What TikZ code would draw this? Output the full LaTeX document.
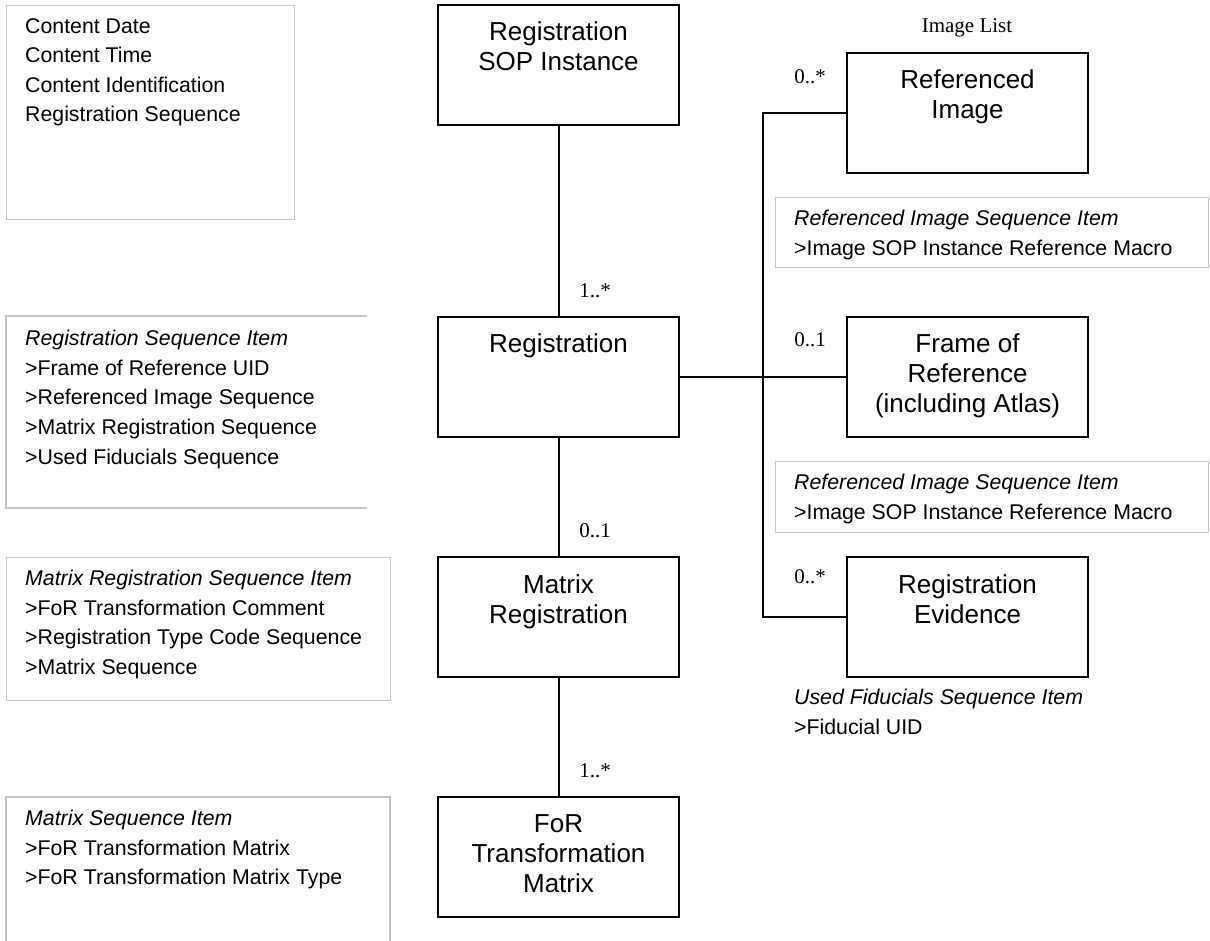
\documentclass[tikz,border=0pt]{standalone}
\usepackage{fontspec}
\setmainfont{Liberation Serif}
\setsansfont{Liberation Sans}
\definecolor{annogray}{HTML}{C4C4C4}
\begin{document}
\begin{tikzpicture}[x=1pt,y=-1pt,
  mainbox/.style={draw, line width=2pt, minimum width=241pt, minimum height=120pt, inner sep=0pt},
  boxtext/.style={anchor=north, align=center, inner sep=0pt, font=\sffamily\fontsize{26}{30}\selectfont},
  annbox/.style={draw=annogray, line width=1.3pt, inner sep=0pt, anchor=north west},
  annline/.style={draw=annogray, line width=1.3pt},
  anntext/.style={anchor=north west, align=left, inner sep=0pt, font=\sffamily\fontsize{21.3}{29.6}\selectfont},
  mult/.style={inner sep=0pt, font=\rmfamily\fontsize{21}{25}\selectfont},
  conn/.style={line width=2pt}]
\useasboundingbox (0,0) rectangle (1210,940);

% main boxes
\node[mainbox] (sop)   at (558.5,64.5) {};
\node[mainbox] (reg)   at (558.5,376.5) {};
\node[mainbox] (mreg)  at (558.5,617) {};
\node[mainbox] (fortm) at (558.5,857) {};
\node[mainbox] (refimg) at (967.5,112.5) {};
\node[mainbox] (frame)  at (967.5,376.5) {};
\node[mainbox] (evid)   at (967.5,617) {};

\node[boxtext] (tsop)   at ([yshift=-18]sop.north) {Registration\\SOP Instance};
\node[boxtext] (treg)   at ([yshift=-18]reg.north) {Registration};
\node[boxtext] (tmreg)  at ([yshift=-18]mreg.north) {Matrix\\Registration};
\node[boxtext] (tfortm) at ([yshift=-18]fortm.north) {FoR\\Transformation\\Matrix};
\node[boxtext] (trefimg) at ([yshift=-18]refimg.north) {Referenced\\Image};
\node[boxtext] (tframe)  at ([yshift=-18]frame.north) {Frame of\\Reference\\(including Atlas)};
\node[boxtext] (tevid)   at ([yshift=-18]evid.north) {Registration\\Evidence};

% connectors
\coordinate (bus) at (763,113);
\draw[conn] (sop.south) -- (reg.north);
\draw[conn] (reg.south) -- (mreg.north);
\draw[conn] (mreg.south) -- (fortm.north);
\draw[conn] (reg.east) -- (frame.west);
\draw[conn] (refimg.west) -- (refimg.west -| bus) -- (evid.west -| bus) -- (evid.west);

% multiplicities
\node[mult] (m1) at (595,291) {1..*};
\node[mult] (m2) at (595,531) {0..1};
\node[mult] (m3) at (595,771) {1..*};
\node[mult] (m4) at (810,77) {0..*};
\node[mult] (m5) at (810,340) {0..1};
\node[mult] (m6) at (810,577) {0..*};
\node[mult] (imglist) at (967,28) {Image List};

% annotation boxes
\node[annbox, minimum width=288pt, minimum height=214pt] (ann1) at (6,5) {};
\node[anntext] (tann1) at (25,18) {Content Date\\Content Time\\Content Identification\\Registration Sequence};

\draw[annline] (367,316) -- (6,316) -- (6,508) -- (367,508);
\node[anntext] (tann2) at (25,330) {\itshape Registration Sequence Item\\>Frame of Reference UID\\>Referenced Image Sequence\\>Matrix Registration Sequence\\>Used Fiducials Sequence};

\node[annbox, minimum width=384pt, minimum height=143pt] (ann3) at (6,557) {};
\node[anntext] (tann3) at (25,570) {\itshape Matrix Registration Sequence Item\\>FoR Transformation Comment\\>Registration Type Code Sequence\\>Matrix Sequence};

\draw[annline] (6,945) -- (6,797) -- (390,797) -- (390,945);
\node[anntext] (tann4) at (25,810) {\itshape Matrix Sequence Item\\>FoR Transformation Matrix\\>FoR Transformation Matrix Type};

\node[annbox, minimum width=433pt, minimum height=70pt] (ann5) at (775,197) {};
\node[anntext] (tann5) at (794,210) {\itshape Referenced Image Sequence Item\\>Image SOP Instance Reference Macro};

\node[annbox, minimum width=433pt, minimum height=71pt] (ann6) at (775,461) {};
\node[anntext] (tann6) at (794,474) {\itshape Referenced Image Sequence Item\\>Image SOP Instance Reference Macro};

\node[anntext] (tfid) at (794,689) {\itshape Used Fiducials Sequence Item\\>Fiducial UID};
\end{tikzpicture}
\end{document}
